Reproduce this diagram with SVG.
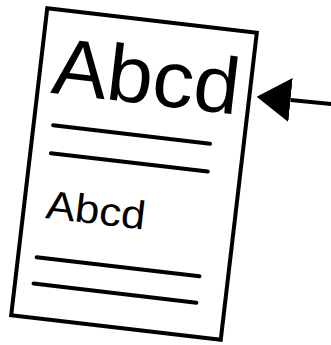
<svg xmlns="http://www.w3.org/2000/svg" width="331" height="345" viewBox="0 0 331 345">
<style>
.doc{fill:#fff;stroke:#000;stroke-width:4;stroke-linejoin:miter}
.rule{stroke:#000;stroke-width:4;stroke-linecap:round;fill:none}
.t{font-family:"Liberation Sans",Arial,sans-serif;fill:#000}
.conn{stroke:#000;stroke-width:4;fill:none}
</style>
<defs>
<marker id="ah" markerUnits="userSpaceOnUse" viewBox="0 0 34 44" markerWidth="34" markerHeight="44" refX="0" refY="22" orient="auto">
<path d="M0,0 L34,22 L0,44 Z" fill="#000"/>
</marker>
</defs>
<rect width="331" height="345" fill="#fff"/>
<g id="document" transform="translate(134,174) rotate(6.7)">
<rect class="doc" x="-105.5" y="-154.5" width="211" height="309"/>
<text class="t" x="-93" y="-71" font-size="80" textLength="188" lengthAdjust="spacingAndGlyphs">Abcd</text>
<line class="rule" x1="-86" y1="-39" x2="72" y2="-39"/>
<line class="rule" x1="-85" y1="-11" x2="73" y2="-11"/>
<text class="t" x="-83.5" y="54" font-size="40" textLength="100" lengthAdjust="spacingAndGlyphs">Abcd</text>
<line class="rule" x1="-87" y1="94" x2="77" y2="94"/>
<line class="rule" x1="-87" y1="120.5" x2="77" y2="120.5"/>
</g>
<g id="connectors">
<line class="conn" x1="336" y1="104.5" x2="290.5" y2="100" marker-end="url(#ah)"/>
</g>
</svg>
